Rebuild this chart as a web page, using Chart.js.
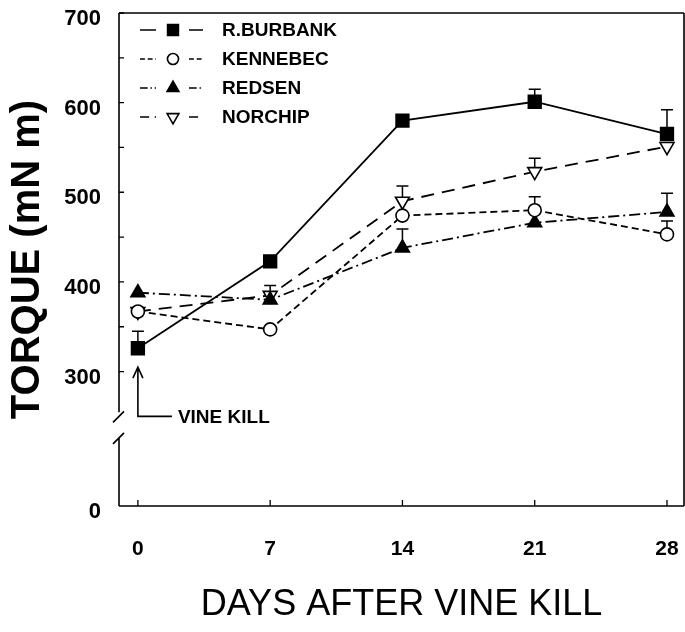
<!DOCTYPE html>
<html>
<head>
<meta charset="utf-8">
<title>Torque after vine kill</title>
<script src="https://cdn.jsdelivr.net/npm/chart.js@4.4.0/dist/chart.umd.min.js"></script>
<style>
  html, body { margin: 0; padding: 0; background: #fff; }
  #wrap { width: 685px; height: 632px; position: relative; }
</style>
</head>
<body>
<div id="wrap"><canvas id="torqueChart"></canvas></div>
<script>
// torque (mN m) per cultivar, sampled every 7 days after vine kill
const days = [0, 7, 14, 21, 28];
const cultivars = ['R.BURBANK', 'KENNEBEC', 'REDSEN', 'NORCHIP'];
const burbankTorque = [326, 423, 580, 601, 565];
const kennebecTorque = [367, 347, 474, 480, 453];
const redsenTorque = [388, 380, 438, 466, 478];
const norchipTorque = [367, 385, 490, 523, 551];

// top of each error bar (null where the bar is hidden behind a marker)
const burbankUpper = [345, null, null, 615, 592];
const kennebecUpper = [null, null, null, 495, 468];
const redsenUpper = [null, null, 459, null, 499];
const norchipUpper = [null, 396, 507, 538, null];

const yTickValues = [300, 400, 500, 600, 700];
const yMinorValues = [350, 450, 550, 650];
const xTickValues = [0, 7, 14, 21, 28];

// the axis is broken below 300: the "0" tick sits at this scale value
const AXIS_ZERO = 150;
const BREAK_TOP = 250;
const BREAK_BOTTOM = 226;

const FONT = '"Liberation Sans", Arial, Helvetica, sans-serif';

const series = [
	{ values: burbankTorque, upper: burbankUpper, pointStyle: 'rect', radius: 9, rotation: 0, fill: '#000', dash: [] },
	{ values: kennebecTorque, upper: kennebecUpper, pointStyle: 'circle', radius: 6.5, rotation: 0, fill: '#fff', dash: [7, 4] },
	{ values: redsenTorque, upper: redsenUpper, pointStyle: 'triangle', radius: 8, rotation: 0, fill: '#000', dash: [11, 4, 2, 4] },
	{ values: norchipTorque, upper: norchipUpper, pointStyle: 'triangle', radius: 8, rotation: 180, fill: '#fff', dash: [13, 8] }
];

const datasets = series.map((s, i) => ({
	label: cultivars[i],
	data: days.map((d, j) => ({ x: d, y: s.values[j] })),
	borderColor: '#000',
	borderWidth: 1.8,
	borderDash: s.dash,
	tension: 0,
	fill: false,
	pointStyle: s.pointStyle,
	pointRadius: s.radius,
	pointRotation: s.rotation,
	pointBackgroundColor: s.fill,
	pointBorderColor: '#000',
	pointBorderWidth: 1.6,
	clip: false
}));

function drawMarker(ctx, s, x, y, scale) {
	ctx.save();
	ctx.setLineDash([]);
	ctx.fillStyle = s.fill;
	ctx.strokeStyle = '#000';
	ctx.lineWidth = 1.6;
	Chart.helpers.drawPoint(ctx, {
		pointStyle: s.pointStyle,
		radius: s.radius * scale,
		rotation: s.rotation,
		borderWidth: 1.6
	}, x, y);
	ctx.restore();
}

const framePlugin = {
	id: 'frame',
	beforeDatasetsDraw(chart) {
		const { ctx, chartArea: a, scales: { x, y } } = chart;
		ctx.save();
		ctx.strokeStyle = '#000';
		ctx.lineWidth = 1.6;
		ctx.setLineDash([]);

		// box: top, right, bottom
		ctx.beginPath();
		ctx.moveTo(a.left, a.top);
		ctx.lineTo(a.right, a.top);
		ctx.moveTo(a.right, a.top);
		ctx.lineTo(a.right, a.bottom);
		ctx.moveTo(a.left, a.bottom);
		ctx.lineTo(a.right, a.bottom);
		ctx.stroke();

		// left axis with a break
		const yb1 = y.getPixelForValue(BREAK_TOP);
		const yb2 = y.getPixelForValue(BREAK_BOTTOM);
		ctx.beginPath();
		ctx.moveTo(a.left, a.top);
		ctx.lineTo(a.left, yb1 - 4);
		ctx.moveTo(a.left, yb2);
		ctx.lineTo(a.left, a.bottom);
		[yb1, yb2].forEach(py => {
			ctx.moveTo(a.left - 6, py + 6);
			ctx.lineTo(a.left + 5, py - 5);
		});
		ctx.stroke();

		// inward ticks
		ctx.lineWidth = 1.3;
		ctx.beginPath();
		yTickValues.concat(yMinorValues).forEach(v => {
			const py = y.getPixelForValue(v);
			ctx.moveTo(a.left, py);
			ctx.lineTo(a.left + 5, py);
		});
		xTickValues.forEach(v => {
			const px = x.getPixelForValue(v);
			ctx.moveTo(px, a.bottom);
			ctx.lineTo(px, a.bottom - 6);
		});
		ctx.stroke();

		// error bars (upper half only)
		ctx.lineWidth = 1.5;
		ctx.beginPath();
		series.forEach(s => {
			days.forEach((d, j) => {
				if (s.upper[j] == null) return;
				const px = x.getPixelForValue(d);
				const py0 = y.getPixelForValue(s.values[j]);
				const py1 = y.getPixelForValue(s.upper[j]);
				ctx.moveTo(px, py0);
				ctx.lineTo(px, py1);
				ctx.moveTo(px - 6, py1);
				ctx.lineTo(px + 6, py1);
			});
		});
		ctx.stroke();
		ctx.restore();
	},
	afterDraw(chart) {
		const { ctx, chartArea: a, scales: { x, y } } = chart;
		ctx.save();
		ctx.strokeStyle = '#000';
		ctx.fillStyle = '#000';
		ctx.lineWidth = 1.6;

		// vine kill arrow
		const ax = x.getPixelForValue(0);
		const tip = y.getPixelForValue(305);
		const elbow = y.getPixelForValue(250);
		ctx.beginPath();
		ctx.moveTo(ax, tip);
		ctx.lineTo(ax, elbow);
		ctx.lineTo(ax + 34, elbow);
		ctx.moveTo(ax - 5, tip + 11);
		ctx.lineTo(ax, tip);
		ctx.lineTo(ax + 5, tip + 11);
		ctx.stroke();
		ctx.font = 'bold 19px ' + FONT;
		ctx.textBaseline = 'middle';
		ctx.textAlign = 'left';
		ctx.fillText('VINE KILL', ax + 40, elbow + 1);

		// legend
		const rows = [17, 46, 75, 104];
		const mx = a.left + 54;
		series.forEach((s, i) => {
			const ry = a.top + rows[i];
			ctx.save();
			ctx.lineWidth = 1.6;
			ctx.setLineDash(s.dash.map(v => v * 0.7));
			ctx.beginPath();
			ctx.moveTo(mx - 33, ry);
			ctx.lineTo(mx - 17, ry);
			ctx.moveTo(mx + 16, ry);
			ctx.lineTo(mx + 30, ry);
			ctx.stroke();
			ctx.restore();
			drawMarker(ctx, s, mx, ry, 0.85);
			ctx.font = 'bold 19px ' + FONT;
			ctx.textBaseline = 'middle';
			ctx.fillText(cultivars[i], a.left + 103, ry + 1);
		});
		ctx.restore();
	}
};

new Chart(document.getElementById('torqueChart'), {
	type: 'line',
	data: { datasets: datasets },
	options: {
		responsive: true,
		maintainAspectRatio: false,
		animation: false,
		layout: { autoPadding: false, padding: { top: 13, right: 1, left: 0, bottom: 0 } },
		plugins: {
			legend: { display: false },
			tooltip: { enabled: false }
		},
		scales: {
			x: {
				type: 'linear',
				min: -1,
				max: 28.9,
				afterBuildTicks: s => { s.ticks = xTickValues.map(v => ({ value: v })); },
				afterFit: s => {
					s.height = 126;
					s.paddingLeft = 0;
					s.paddingRight = 0;
				},
				grid: { display: false, drawTicks: false },
				border: { display: false },
				ticks: {
					color: '#000',
					font: { family: FONT, size: 21, weight: 'bold' },
					padding: 31,
					maxRotation: 0,
					autoSkip: false,
					callback: v => String(v)
				},
				title: {
					display: true,
					text: 'DAYS AFTER VINE KILL',
					color: '#000',
					font: { family: FONT, size: 36 },
					padding: { top: 0, bottom: 5 }
				}
			},
			y: {
				type: 'linear',
				min: AXIS_ZERO,
				max: 700,
				afterBuildTicks: s => { s.ticks = [AXIS_ZERO].concat(yTickValues).map(v => ({ value: v })); },
				afterFit: s => {
					s.width = 119;
					s.paddingTop = 0;
					s.paddingBottom = 0;
				},
				grid: { display: false, drawTicks: false },
				border: { display: false },
				ticks: {
					color: '#000',
					font: { family: FONT, size: 22, weight: 'bold' },
					padding: 18,
					labelOffset: 6,
					autoSkip: false,
					callback: v => v === AXIS_ZERO ? '0' : String(v)
				},
				title: {
					display: true,
					text: 'TORQUE (mN m)',
					color: '#000',
					font: { family: FONT, size: 40, weight: 'bold' },
					padding: { top: 4, bottom: 0 }
				}
			}
		}
	},
	plugins: [framePlugin]
});
</script>
</body>
</html>
